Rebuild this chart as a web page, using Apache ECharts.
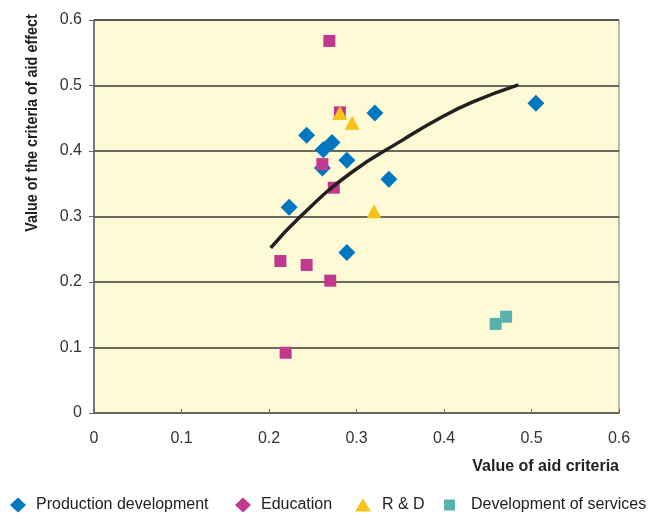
<!DOCTYPE html>
<html lang="en">
<head>
<meta charset="UTF-8">
<title>Aid criteria vs aid effect</title>
<script src="https://cdn.jsdelivr.net/npm/echarts@6/dist/echarts.min.js"></script>
<style>
  html, body { margin: 0; padding: 0; background: #fff; }
  #main { width: 648px; height: 514px; }
</style>
</head>
<body>
<div id="main"></div>
<script>
// data: [value of aid criteria, value of aid effect]
var production = [
  [0.505, 0.473], [0.321, 0.458], [0.243, 0.424], [0.272, 0.413],
  [0.262, 0.402], [0.289, 0.386], [0.261, 0.374], [0.337, 0.357],
  [0.223, 0.314], [0.289, 0.245]
];
var education = [
  [0.269, 0.568], [0.281, 0.459], [0.261, 0.380], [0.274, 0.344],
  [0.213, 0.232], [0.243, 0.226], [0.270, 0.202], [0.219, 0.092]
];
var research = [[0.281, 0.458], [0.295, 0.443], [0.320, 0.308]];
var services = [[0.459, 0.136], [0.471, 0.147]];
// trend curve, points
var trend = [
  [0.202, 0.252], [0.235, 0.299], [0.293, 0.366], [0.353, 0.417],
  [0.395, 0.450], [0.433, 0.475], [0.485, 0.501]
];
var seriesNames = ['Production development', 'Education', 'R & D', 'Development of services'];

var font = 'Liberation Sans, Arial, sans-serif';
var chart = echarts.init(document.getElementById('main'));

// one legend per item so each can sit where it does in the original
var legendStyle = [
  { icon: 'diamond', left: 5, w: 16, h: 15, pad: 5 },
  { icon: 'diamond', left: 230, w: 16, h: 15, pad: 5 },
  { icon: 'triangle', left: 350, w: 16, h: 13, pad: 6 },
  { icon: 'rect', left: 439, w: 11, h: 11, pad: 11 }
];
var legends = seriesNames.map(function (name, i) {
  var s = legendStyle[i];
  return {
    data: [{ name: name, icon: s.icon }],
    left: s.left, top: 492,
    itemWidth: s.w, itemHeight: s.h,
    textStyle: { fontSize: 16, color: '#222', fontFamily: font, padding: [0, 0, 0, s.pad] }
  };
});

chart.setOption({
  animation: false,
  textStyle: { fontFamily: font },
  grid: {
    left: 94, right: 29, top: 20, bottom: 101,
    show: true,
    backgroundColor: '#fefad6',
    borderColor: '#777',
    borderWidth: 1
  },
  xAxis: {
    type: 'value', min: 0, max: 0.6, interval: 0.1,
    axisLine: { lineStyle: { color: '#666', width: 1.5 } },
    axisTick: { show: true, inside: true, length: 4, lineStyle: { color: '#666' } },
    axisLabel: { color: '#333', fontSize: 16, margin: 18, fontFamily: font },
    splitLine: { show: false }
  },
  yAxis: {
    type: 'value', min: 0, max: 0.6, interval: 0.1,
    axisLine: { show: true, lineStyle: { color: '#666', width: 1.5 } },
    axisTick: { show: true, length: 5, lineStyle: { color: '#666' } },
    axisLabel: { color: '#333', fontSize: 16, margin: 12, fontFamily: font },
    splitLine: { lineStyle: { color: '#3a3a3a', width: 1.5 } }
  },
  legend: legends,
  graphic: [
    {
      type: 'text',
      x: 33, y: 123, rotation: Math.PI / 2, scaleX: 0.9,
      style: {
        text: 'Value of the criteria of aid effect',
        font: 'bold 16px ' + font, fill: '#222',
        textAlign: 'center', textVerticalAlign: 'middle'
      }
    },
    {
      type: 'text',
      x: 619, y: 467,
      style: {
        text: 'Value of aid criteria',
        font: 'bold 16px ' + font, fill: '#222',
        textAlign: 'right', textVerticalAlign: 'middle'
      }
    }
  ],
  series: [
    {
      name: 'trend', type: 'line', data: trend, smooth: true,
      showSymbol: false, silent: true,
      lineStyle: { color: '#231f20', width: 3.5 }
    },
    {
      name: seriesNames[0], type: 'scatter', data: production,
      symbol: 'diamond', symbolSize: 17,
      itemStyle: { color: '#0077be', opacity: 1 }
    },
    {
      name: seriesNames[1], type: 'scatter', data: education,
      symbol: 'rect', symbolSize: 12,
      itemStyle: { color: '#c0398f', opacity: 1 }
    },
    {
      name: seriesNames[2], type: 'scatter', data: research,
      symbol: 'triangle', symbolSize: [15, 14],
      itemStyle: { color: '#f8c21b', opacity: 1 }
    },
    {
      name: seriesNames[3], type: 'scatter', data: services,
      symbol: 'rect', symbolSize: 12,
      itemStyle: { color: '#58b1ad', opacity: 1 }
    }
  ]
});
</script>
</body>
</html>
